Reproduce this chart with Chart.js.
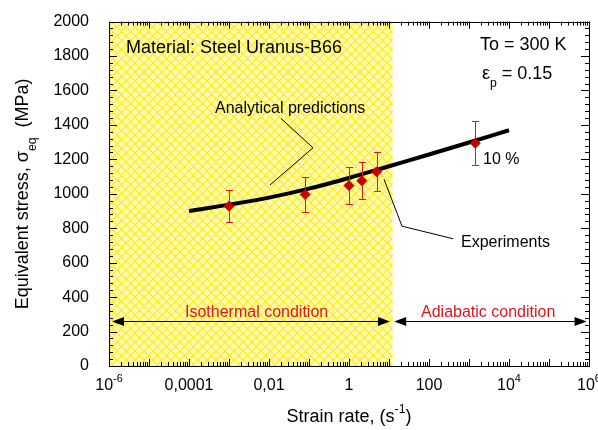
<!DOCTYPE html>
<html lang="en">
<head>
<meta charset="utf-8">
<title>Equivalent stress vs strain rate</title>
<script src="https://cdn.jsdelivr.net/npm/chart.js@4/dist/chart.umd.min.js"></script>
<style>
  html, body { margin: 0; padding: 0; background: #fff; }
</style>
</head>
<body>
<canvas id="chart" width="598" height="430"></canvas>
<script>
// analytical prediction
var predRate = [1e-4, 1e-3, 1e-2, 1e-1, 1, 10, 100, 1e3, 1e4];
var predStress = [900, 937, 978, 1030, 1092, 1160, 1228, 1298, 1369];

// experiments, 10 % error bars
var expRate = [0.001, 0.08, 1, 2.1, 4.9, 1440];
var expStress = [928, 996, 1048, 1076, 1128, 1294];
var expError = [93, 100, 105, 108, 113, 129];

// x tick labels (^ = superscript)
var xTickValues = [1e-6, 1e-4, 1e-2, 1, 100, 1e4, 1e6];
var xTickLabels = ['10^-6', '0,0001', '0,01', '1', '100', '10^4', '10^6'];

// isothermal / adiabatic split and arrows
var isoLimit = 12.3;
var arrowLevel = 261;
var isoArrow = [1.19e-6, 10.6];
var adiaArrow = [13.5, 8.7e5];

var FONT = '"Liberation Sans", Arial, sans-serif';
var RED = '#D71920';

function hatchPattern(ctx) {
  var c = document.createElement('canvas');
  c.width = 9; c.height = 9;
  var g = c.getContext('2d');
  g.fillStyle = '#FFFBAE';
  g.fillRect(0, 0, 9, 9);
  g.strokeStyle = '#FFE81A';
  g.lineWidth = 1.1;
  g.beginPath();
  for (var k = -9; k <= 9; k += 9) {
    g.moveTo(k - 1, -1); g.lineTo(k + 10, 10);
    g.moveTo(k + 10, -1); g.lineTo(k - 1, 10);
  }
  g.stroke();
  return ctx.createPattern(c, 'repeat');
}

// parts: [text, 0 normal | 1 sup | -1 sub]
function rich(ctx, parts, x, y, size, align) {
  var w = 0;
  parts.forEach(function (p) {
    ctx.font = (p[1] ? size * 0.68 : size) + 'px ' + FONT;
    w += ctx.measureText(p[0]).width;
  });
  var cx = align === 'center' ? x - w / 2 : x;
  ctx.textAlign = 'left';
  ctx.textBaseline = 'alphabetic';
  parts.forEach(function (p) {
    ctx.font = (p[1] ? size * 0.68 : size) + 'px ' + FONT;
    var dy = p[1] === 1 ? -size * 0.5 : (p[1] === -1 ? size * 0.45 : 0);
    ctx.fillText(p[0], cx, y + dy);
    cx += ctx.measureText(p[0]).width;
  });
}

function parseSup(s) {
  var i = s.indexOf('^');
  return i < 0 ? [[s, 0]] : [[s.slice(0, i), 0], [s.slice(i + 1), 1]];
}

function arrowHead(ctx, x, y, dir) {
  ctx.beginPath();
  ctx.moveTo(x, y);
  ctx.lineTo(x - dir * 12, y - 4.5);
  ctx.lineTo(x - dir * 12, y + 4.5);
  ctx.closePath();
  ctx.fill();
}

var decor = {
  id: 'decor',
  beforeDatasetsDraw: function (chart) {
    var ctx = chart.ctx, a = chart.chartArea;
    var xs = chart.scales.x, ys = chart.scales.y;
    ctx.save();
    // isothermal region
    ctx.fillStyle = hatchPattern(ctx);
    var xr = xs.getPixelForValue(isoLimit);
    ctx.fillRect(a.left, a.top, xr - a.left, a.bottom - a.top);

    // ticks
    ctx.strokeStyle = '#000';
    ctx.lineWidth = 1;
    ctx.beginPath();
    for (var d = -6; d <= 6; d++) {
      for (var k = 1; k <= 9; k++) {
        if (d === 6 && k > 1) break;
        var px = Math.round(xs.getPixelForValue(k * Math.pow(10, d))) + 0.5;
        var len = k === 1 ? 7 : 4;
        ctx.moveTo(px, a.bottom); ctx.lineTo(px, a.bottom - len);
        ctx.moveTo(px, a.top); ctx.lineTo(px, a.top + len);
      }
    }
    for (var v = 0; v <= 2000; v += 40) {
      var py = Math.round(ys.getPixelForValue(v)) + 0.5;
      var l2 = v % 200 === 0 ? 8 : 4;
      ctx.moveTo(a.left, py); ctx.lineTo(a.left + l2, py);
      ctx.moveTo(a.right, py); ctx.lineTo(a.right - l2, py);
    }
    ctx.stroke();
    ctx.strokeRect(Math.round(a.left) + 0.5, Math.round(a.top) + 0.5,
      Math.round(a.right - a.left), Math.round(a.bottom - a.top));

    // arrows
    var ay = Math.round(ys.getPixelForValue(arrowLevel)) + 0.5;
    ctx.fillStyle = '#000';
    [isoArrow, adiaArrow].forEach(function (r) {
      var x1 = xs.getPixelForValue(r[0]), x2 = xs.getPixelForValue(r[1]);
      ctx.beginPath();
      ctx.moveTo(x1 + 6, ay); ctx.lineTo(x2 - 6, ay);
      ctx.stroke();
      arrowHead(ctx, x1, ay, -1);
      arrowHead(ctx, x2, ay, 1);
    });
    ctx.restore();
  },
  afterDatasetDraw: function (chart, args) {
    if (args.index !== 0) return;
    // error bars, over the line and under the diamonds
    var ctx = chart.ctx, xs = chart.scales.x, ys = chart.scales.y;
    ctx.save();
    ctx.strokeStyle = RED;
    ctx.lineWidth = 1;
    ctx.beginPath();
    expRate.forEach(function (r, i) {
      var px = Math.round(xs.getPixelForValue(r)) + 0.5;
      var top = Math.round(ys.getPixelForValue(expStress[i] + expError[i])) + 0.5;
      var bot = Math.round(ys.getPixelForValue(expStress[i] - expError[i])) + 0.5;
      ctx.moveTo(px, top); ctx.lineTo(px, bot);
      ctx.moveTo(px - 3.5, top); ctx.lineTo(px + 3.5, top);
      ctx.moveTo(px - 3.5, bot); ctx.lineTo(px + 3.5, bot);
    });
    ctx.stroke();
    ctx.restore();
  },
  afterDraw: function (chart) {
    var ctx = chart.ctx, a = chart.chartArea;
    var xs = chart.scales.x, ys = chart.scales.y;
    function X(lx) { return xs.getPixelForValue(Math.pow(10, lx)); }
    function Y(s) { return ys.getPixelForValue(s); }
    ctx.save();
    ctx.fillStyle = '#000';

    // x tick labels
    xTickValues.forEach(function (v, i) {
      rich(ctx, parseSup(xTickLabels[i]), xs.getPixelForValue(v), a.bottom + 24, 16, 'center');
    });

    // axis titles
    rich(ctx, [['Strain rate, (s', 0], ['-1', 1], [')', 0]], (a.left + a.right) / 2, 422, 18, 'center');
    ctx.save();
    ctx.translate(28, (a.top + a.bottom) / 2);
    ctx.rotate(-Math.PI / 2);
    rich(ctx, [['Equivalent stress, \u03C3', 0], ['eq', -1], ['  (MPa)', 0]], 0, 0, 18, 'center');
    ctx.restore();

    // notes
    ctx.textBaseline = 'middle';
    ctx.textAlign = 'left';
    ctx.font = '18px ' + FONT;
    ctx.fillText('Material: Steel Uranus-B66', X(-5.575), Y(1844));
    ctx.fillText('To = 300 K', X(3.275), Y(1866));
    rich(ctx, [['\u03B5', 0], ['p', -1], [' = 0.15', 0]], X(3.325), Y(1702) + 6, 18, 'left');

    ctx.textBaseline = 'middle';
    ctx.font = '16px ' + FONT;
    ctx.fillText('Analytical predictions', X(-3.35), Y(1494));
    ctx.fillText('10 %', X(3.35), Y(1199));
    ctx.fillText('Experiments', X(2.8), Y(716));
    ctx.fillStyle = RED;
    ctx.fillText('Isothermal condition', X(-4.1), Y(312));
    ctx.fillText('Adiabatic condition', X(1.8), Y(312));

    // leader lines
    ctx.strokeStyle = '#000';
    ctx.lineWidth = 1;
    ctx.beginPath();
    ctx.moveTo(X(-1.7), Y(1438)); ctx.lineTo(X(-0.9), Y(1267)); ctx.lineTo(X(-1.975), Y(1051));
    ctx.moveTo(X(0.875), Y(1085)); ctx.lineTo(X(1.325), Y(812)); ctx.lineTo(X(2.6), Y(739));
    ctx.stroke();
    ctx.restore();
  }
};

new Chart(document.getElementById('chart'), {
  type: 'scatter',
  data: {
    datasets: [{
      type: 'line',
      order: 1,
      data: predRate.map(function (r, i) { return { x: r, y: predStress[i] }; }),
      borderColor: '#000',
      borderWidth: 4,
      pointRadius: 0,
      fill: false,
      showLine: true,
      cubicInterpolationMode: 'monotone'
    }, {
      order: 0,
      data: expRate.map(function (r, i) { return { x: r, y: expStress[i] }; }),
      pointStyle: 'rectRot',
      pointRadius: 5,
      backgroundColor: '#C80000',
      borderColor: '#C80000',
      borderWidth: 1
    }]
  },
  options: {
    responsive: false,
    animation: false,
    events: [],
    layout: { padding: { top: 14, right: 9, left: 0, bottom: 0 } },
    plugins: { legend: { display: false }, tooltip: { enabled: false } },
    scales: {
      x: {
        type: 'logarithmic',
        min: 1e-6,
        max: 1e6,
        grid: { display: false },
        border: { display: false },
        ticks: { display: false },
        afterFit: function (s) { s.height = 64; }
      },
      y: {
        min: 0,
        max: 2000,
        grid: { display: false },
        border: { display: false },
        ticks: {
          stepSize: 200, color: '#000', padding: 12,
          font: { size: 16, family: FONT },
          callback: function (v) { return String(v); }
        },
        afterFit: function (s) { s.width = 109; }
      }
    }
  },
  plugins: [decor]
});
</script>
</body>
</html>
